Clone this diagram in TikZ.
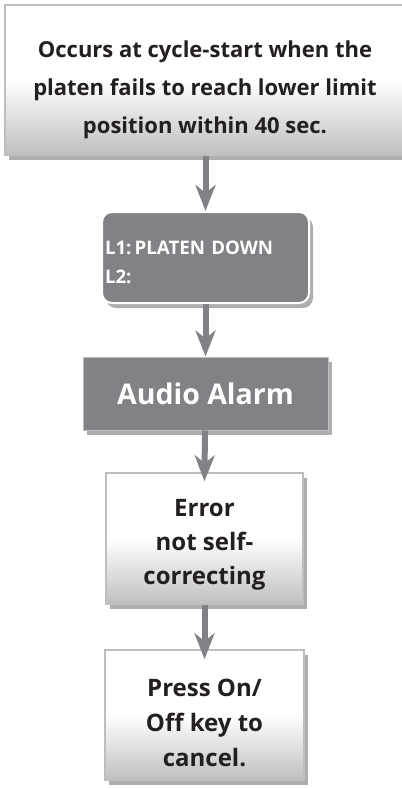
\documentclass[tikz,border=0pt]{standalone}
\usepackage{fontspec}
\setmainfont{Open Sans}
\usetikzlibrary{arrows.meta,positioning,shadows}
\definecolor{boxgrey}{RGB}{128,130,133}
\definecolor{edgegrey}{RGB}{188,190,192}
\definecolor{inkblack}{RGB}{35,31,32}
\tikzset{
  boxshadow/.style={drop shadow={shadow xshift=4pt, shadow yshift=-5pt,
      opacity=0.45, fill=black!70}},
  whitebox/.style={draw=edgegrey, line width=1.5pt, boxshadow,
    top color=white, bottom color=black!25, middle color=white,
    text=inkblack, align=center, inner sep=0pt},
  greybox/.style={draw=white, line width=2pt, fill=boxgrey, boxshadow,
    text=white, inner sep=0pt},
  flowarrow/.style={draw=boxgrey, line width=6pt,
    -{Stealth[length=26pt,width=20pt,inset=8pt]}}
}
% strut that pushes a centred text block down
\newcommand{\lift}[1]{\rule{0pt}{#1}}
\begin{document}
\begin{tikzpicture}[x=1pt,y=-1pt]
  \useasboundingbox (0,0) rectangle (402,788);
  % boxes, top to bottom
  \node[whitebox, minimum width=400pt, minimum height=150pt,
    font=\bfseries\fontsize{22}{38}\selectfont] (occurs) at (205,80)
    {\lift{37pt}Occurs at cycle-start when the\\platen fails to reach lower limit\\position within 40 sec.};
  \node[greybox, rounded corners=10pt, minimum width=207pt, minimum height=91pt,
    text width=201pt, align=left, inner xsep=3pt,
    font=\bfseries\fontsize{18.7}{29}\selectfont] (display) at (205.5,257.5)
    {\lift{23pt}L1:\,PLATEN DOWN\\L2:};
  \node[greybox, draw=edgegrey, line width=1pt, minimum width=245pt,
    minimum height=73pt, font=\bfseries\fontsize{28.5}{34}\selectfont]
    (alarm) at (205.5,393.5) {Audio Alarm};
  \node[whitebox, minimum width=197pt, minimum height=131pt,
    font=\bfseries\fontsize{24}{34}\selectfont] (error) at (204.5,538.5)
    {\lift{30pt}Error\\not self-\\correcting};
  \node[whitebox, minimum width=199pt, minimum height=130pt,
    font=\bfseries\fontsize{24}{35}\selectfont] (press) at (204.5,715)
    {\lift{34pt}Press On/\\Off key to\\cancel.};
  % connectors
  \draw[flowarrow] (occurs.south -| display.north) -- (display.north);
  \draw[flowarrow] (display) -- (alarm.north);
  \draw[flowarrow, shorten >=-9pt] (alarm) -- (error.north);
  \draw[flowarrow, shorten >=-10pt] (error) -- (press.north);
\end{tikzpicture}
\end{document}
